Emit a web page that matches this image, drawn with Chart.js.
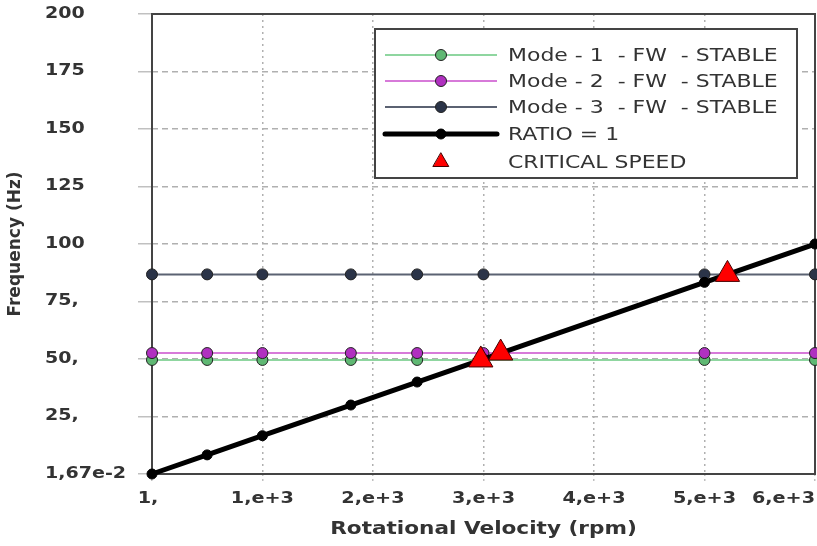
<!DOCTYPE html>
<html lang="en">
<head>
<meta charset="UTF-8">
<title>Campbell Diagram</title>
<style>
  html, body { margin: 0; padding: 0; background: #fff; }
  #wrap { width: 817px; height: 546px; }
</style>
</head>
<body>
<div id="wrap"><canvas id="myChart" width="817" height="546"></canvas></div>

<script src="https://cdn.jsdelivr.net/npm/chart.js"></script>
<script>
// rotational speed of the computed points (rpm)
const rpm = [1, 500, 1000, 1800, 2400, 3000, 5000, 6000];
// whirl frequencies (Hz)
const mode1 = [49.6, 49.6, 49.6, 49.6, 49.6, 49.6, 49.6, 49.6];
const mode2 = [52.6, 52.6, 52.6, 52.6, 52.6, 52.6, 52.6, 52.6];
const mode3 = [86.8, 86.8, 86.8, 86.8, 86.8, 86.8, 86.8, 86.8];
const ratio1 = [0.0167, 8.33, 16.67, 30, 40, 50, 83.33, 100];
// critical speeds
const critRpm = [2976, 3156, 5208];
const critHz = [49.6, 52.6, 86.8];

const xTicks = [1, 1000, 2000, 3000, 4000, 5000, 6000];
const xTickLabels = ['1,', '1,e+3', '2,e+3', '3,e+3', '4,e+3', '5,e+3', '6,e+3'];
const yTicks = [0.0167, 25, 50, 75, 100, 125, 150, 175, 200];
const yTickLabels = ['1,67e-2', '25,', '50,', '75,', '100', '125', '150', '175', '200'];

const legendLabels = ['Mode - 1  - FW  - STABLE', 'Mode - 2  - FW  - STABLE',
  'Mode - 3  - FW  - STABLE', 'RATIO = 1', 'CRITICAL SPEED'];

function pts(xs, ys) {
  return xs.map((x, i) => ({ x: x, y: ys[i] }));
}

// the original picture is a bit stretched sideways, so text is drawn wider
function wideText(c, text, x, y, align, font, sx) {
  c.save();
  c.translate(x, y);
  c.scale(sx, 1);
  c.font = font;
  c.textAlign = align;
  c.textBaseline = 'middle';
  c.fillText(text, 0, 0);
  c.restore();
}

const ctx = document.getElementById('myChart');

// frame, legend box, tick labels and axis titles
const extras = {
  id: 'extras',
  beforeDatasetsDraw(chart) {
    const a = chart.chartArea;
    const c = chart.ctx;
    c.save();
    c.strokeStyle = '#444';
    c.lineWidth = 2;
    c.strokeRect(a.left, a.top, a.right - a.left, a.bottom - a.top);
    c.restore();
  },
  afterDraw(chart) {
    const c = chart.ctx;
    const xs = chart.scales.x;
    const ys = chart.scales.y;
    const tickFont = 'bold 15px "DejaVu Sans"';
    c.save();
    c.fillStyle = '#333';
    // x tick labels
    xTicks.forEach((v, i) => {
      const px = xs.getPixelForValue(v);
      if (i === xTicks.length - 1) {
        wideText(c, xTickLabels[i], chart.chartArea.right, 499, 'right', tickFont, 1.28);
      } else {
        wideText(c, xTickLabels[i], px - (i === 0 ? 4 : 0), 499, 'center', tickFont, 1.28);
      }
    });
    // y tick labels
    yTicks.forEach((v, i) => {
      wideText(c, yTickLabels[i], 45, ys.getPixelForValue(v), 'left', tickFont, 1.27);
    });
    // axis titles
    wideText(c, 'Rotational Velocity (rpm)', (chart.chartArea.left + chart.chartArea.right) / 2,
      530, 'center', 'bold 17px "DejaVu Sans"', 1.27);
    c.translate(16, 244);
    c.rotate(-Math.PI / 2);
    c.textAlign = 'center';
    c.textBaseline = 'middle';
    c.font = 'bold 17px "DejaVu Sans"';
    c.fillText('Frequency (Hz)', 0, 0);
    c.restore();

    // legend
    c.save();
    const bx = 375, by = 29, bw = 422, bh = 149;
    c.fillStyle = '#fff';
    c.fillRect(bx, by, bw, bh);
    c.strokeStyle = '#444';
    c.lineWidth = 2;
    c.strokeRect(bx, by, bw, bh);
    const rows = [55, 81, 107, 134, 162];
    chart.data.datasets.forEach((ds, i) => {
      const y = rows[i];
      if (ds.showLine !== false) {
        c.strokeStyle = ds.borderColor;
        c.lineWidth = ds.borderWidth;
        c.lineCap = i === 3 ? 'round' : 'butt';
        c.beginPath();
        c.moveTo(385, y);
        c.lineTo(497, y);
        c.stroke();
      }
      c.fillStyle = ds.pointBackgroundColor;
      c.strokeStyle = ds.pointBorderColor;
      c.lineWidth = ds.pointBorderWidth;
      Chart.helpers.drawPoint(c, {
        pointStyle: ds.pointStyle,
        radius: i === 4 ? 9 : ds.pointRadius,
        rotation: 0,
        borderWidth: ds.pointBorderWidth
      }, 441, y);
      c.fillStyle = '#333';
      wideText(c, legendLabels[i], 508, y + 1, 'left', '18px "DejaVu Sans"', 1.22);
    });
    c.restore();
  }
};

new Chart(ctx, {
  type: 'scatter',
  data: {
    datasets: [{
      label: legendLabels[0],
      data: pts(rpm, mode1),
      showLine: true,
      borderColor: '#8fd6a0',
      borderWidth: 2,
      pointBackgroundColor: '#5fb873',
      pointBorderColor: '#222',
      pointBorderWidth: 1,
      pointRadius: 5.5,
      pointStyle: 'circle',
      clip: false,
      order: 4
    }, {
      label: legendLabels[1],
      data: pts(rpm, mode2),
      showLine: true,
      borderColor: '#d77ad9',
      borderWidth: 2,
      pointBackgroundColor: '#b030c0',
      pointBorderColor: '#222',
      pointBorderWidth: 1,
      pointRadius: 5.5,
      pointStyle: 'circle',
      clip: false,
      order: 3
    }, {
      label: legendLabels[2],
      data: pts(rpm, mode3),
      showLine: true,
      borderColor: '#5b6272',
      borderWidth: 2,
      pointBackgroundColor: '#2b3448',
      pointBorderColor: '#222',
      pointBorderWidth: 1,
      pointRadius: 5.5,
      pointStyle: 'circle',
      clip: false,
      order: 2
    }, {
      label: legendLabels[3],
      data: pts(rpm, ratio1),
      showLine: true,
      borderColor: '#000',
      borderWidth: 5,
      pointBackgroundColor: '#000',
      pointBorderColor: '#000',
      pointBorderWidth: 1,
      pointRadius: 5,
      pointStyle: 'circle',
      clip: false,
      order: 1
    }, {
      label: legendLabels[4],
      data: pts(critRpm, critHz),
      showLine: false,
      borderColor: '#400',
      borderWidth: 1,
      pointBackgroundColor: '#ff0000',
      pointBorderColor: '#400',
      pointBorderWidth: 1,
      pointRadius: 14,
      pointStyle: 'triangle',
      clip: false,
      order: 0
    }]
  },
  options: {
    responsive: false,
    animation: false,
    layout: { autoPadding: false, padding: { left: 45, top: 14, right: 2, bottom: 0 } },
    plugins: {
      legend: { display: false },
      tooltip: { enabled: false }
    },
    scales: {
      x: {
        type: 'linear',
        min: 1,
        max: 6000,
        afterBuildTicks: s => { s.ticks = xTicks.map(v => ({ value: v })); },
        afterFit: s => { s.height = 72; s.paddingLeft = 0; s.paddingRight = 0; },
        ticks: { display: false },
        grid: {
          color: '#b0b0b0',
          lineWidth: 1.5,
          tickLength: 10,
          tickColor: '#c0c0c0',
          tickBorderDash: [2, 3]
        },
        border: { display: false, dash: [2, 4] }
      },
      y: {
        type: 'linear',
        min: 0.0167,
        max: 200,
        afterBuildTicks: s => { s.ticks = yTicks.map(v => ({ value: v })); },
        afterFit: s => { s.width = 107; s.paddingTop = 0; s.paddingBottom = 0; },
        ticks: { display: false },
        grid: {
          color: '#b0b0b0',
          lineWidth: 1.5,
          tickLength: 14,
          tickColor: '#c0c0c0',
          tickBorderDash: []
        },
        border: { display: false, dash: [6, 4] }
      }
    }
  },
  plugins: [extras]
});
</script>
</body>
</html>
